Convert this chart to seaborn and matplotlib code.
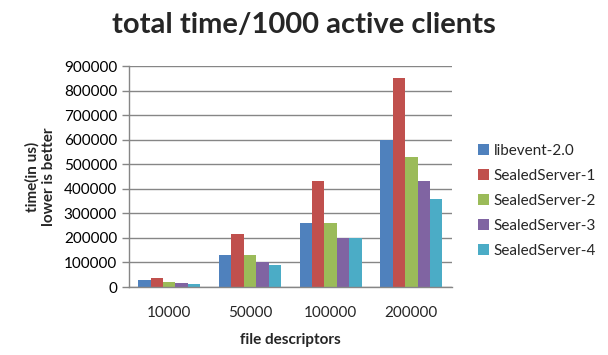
import pandas as pd
import matplotlib
matplotlib.use('Agg')
import matplotlib.pyplot as plt
from matplotlib.ticker import FixedLocator
import seaborn as sns

# chart values
descriptors = ['10000', '50000', '100000', '200000']
servers = ['libevent-2.0', 'SealedServer-1', 'SealedServer-2',
           'SealedServer-3', 'SealedServer-4']
libevent = [28000, 130000, 260000, 600000]
sealed_1 = [37000, 216000, 432000, 850000]
sealed_2 = [20000, 130000, 260000, 530000]
sealed_3 = [16000, 100000, 200000, 430000]
sealed_4 = [12000, 90000, 200000, 360000]
y_ticks = [0, 100000, 200000, 300000, 400000, 500000, 600000, 700000,
           800000, 900000]

palette = ['#4F81BD', '#C0504D', '#9BBB59', '#8064A2', '#4BACC6']

# long table for seaborn
rows = []
for name, vals in zip(servers, [libevent, sealed_1, sealed_2, sealed_3,
                                sealed_4]):
    for d, v in zip(descriptors, vals):
        rows.append({'fd': d, 'server': name, 'time': v})
df = pd.DataFrame(rows)

sns.set_style('white')
plt.rcParams['font.family'] = ['Lato', 'DejaVu Sans']

fig = plt.figure(figsize=(6.08, 3.55), dpi=100)
ax = fig.add_axes([0.212, 0.1915, 0.531, 0.6225])

sns.barplot(data=df, x='fd', y='time', hue='server', order=descriptors,
            hue_order=servers, palette=palette, width=0.77, gap=0,
            saturation=1, linewidth=0, ax=ax)

grey = '#868686'
ax.set_ylim(0, 900000)
ax.set_xlim(-0.5, 3.5)
ax.set_yticks(y_ticks)
ax.set_yticklabels([str(t) for t in y_ticks], fontsize=11, color='black')
ax.yaxis.grid(True, color=grey, linewidth=1)
ax.set_axisbelow(True)

# category ticks sit between the groups, like the spreadsheet chart
ax.tick_params(axis='x', which='major', length=0, labelsize=11, pad=14)
ax.xaxis.set_minor_locator(FixedLocator([-0.5, 0.5, 1.5, 2.5, 3.5]))
ax.tick_params(axis='x', which='minor', length=5, color=grey, width=1,
               direction='out')
ax.tick_params(axis='y', length=5, color=grey, width=1, direction='out',
               left=True)

for side in ['top', 'right']:
    ax.spines[side].set_visible(False)
for side in ['left', 'bottom']:
    ax.spines[side].set_color(grey)
    ax.spines[side].set_linewidth(1)

ax.set_xlabel('file descriptors', fontsize=11, fontweight='bold', labelpad=9)
ax.set_ylabel('time(in us)\nlower is better', fontsize=11,
              fontweight='bold', labelpad=6)

fig.suptitle('total time/1000 active clients', fontsize=21,
             fontweight='bold', x=0.50, y=0.965)

ax.legend(loc='center left', bbox_to_anchor=(1.04, 0.39), frameon=False,
          fontsize=11, handlelength=0.7, handleheight=0.7,
          handletextpad=0.3, labelspacing=0.72)

fig.savefig('out.png', dpi=100)
